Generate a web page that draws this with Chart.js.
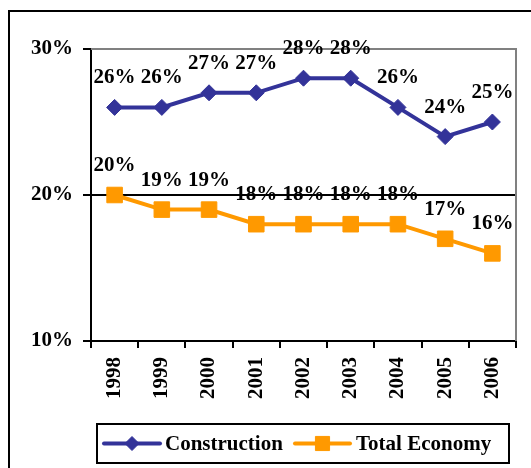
<!DOCTYPE html>
<html>
<head>
<meta charset="utf-8">
<script src="https://cdn.jsdelivr.net/npm/chart.js@4"></script>
<style>
html,body{margin:0;padding:0;background:#fff;}
canvas{display:block;}
</style>
</head>
<body>
<canvas id="c" width="531" height="468"></canvas>
<script>
const years = ['1998','1999','2000','2001','2002','2003','2004','2005','2006'];
const construction = [26,26,27,27,28,28,26,24,25];
const totalEconomy = [20,19,19,18,18,18,18,17,16];
const yTicks = [10,20,30];

const FAMILY = '"Liberation Serif", "Times New Roman", serif';
const FONT = 'bold 21px ' + FAMILY;
const NAVY = '#333399';
const ORANGE = '#FF9900';

const framePlugin = {
  id: 'frame',
  beforeDraw(chart) {
    const c = chart.ctx;
    c.save();
    c.fillStyle = '#fff';
    c.fillRect(0, 0, chart.width, chart.height);
    c.strokeStyle = '#000';
    c.lineWidth = 2;
    c.strokeRect(9, 11, chart.width + 20, chart.height + 20);
    c.restore();
  },
  beforeDatasetsDraw(chart) {
    const a = chart.chartArea, c = chart.ctx;
    c.save();
    c.strokeStyle = '#808080';
    c.lineWidth = 2;
    c.beginPath();
    c.moveTo(a.left, a.top);
    c.lineTo(a.right, a.top);
    c.lineTo(a.right, a.bottom);
    c.stroke();
    c.restore();
  }
};

const labelPlugin = {
  id: 'valueLabels',
  afterDatasetsDraw(chart) {
    const c = chart.ctx;
    c.save();
    c.font = FONT;
    c.fillStyle = '#000';
    c.textAlign = 'center';
    c.textBaseline = 'alphabetic';
    chart.data.datasets.forEach((ds, i) => {
      chart.getDatasetMeta(i).data.forEach((pt, j) => {
        c.fillText(ds.data[j] + '%', pt.x, pt.y - 24);
      });
    });
    c.restore();
  }
};

const legendPlugin = {
  id: 'customLegend',
  afterDraw(chart) {
    const c = chart.ctx;
    const box = {x: 97, y: 424, w: 412, h: 39};
    c.save();
    c.strokeStyle = '#000';
    c.lineWidth = 2;
    c.strokeRect(box.x, box.y, box.w, box.h);
    const cy = box.y + box.h / 2;
    const items = [
      {x1: 104, x2: 160, tx: 165, r: 7},
      {x1: 295, x2: 350, tx: 356, r: 10}
    ];
    c.font = FONT;
    c.textBaseline = 'middle';
    c.textAlign = 'left';
    chart.data.datasets.forEach((ds, i) => {
      const it = items[i];
      c.strokeStyle = ds.borderColor;
      c.lineWidth = ds.borderWidth;
      c.lineCap = 'round';
      c.beginPath();
      c.moveTo(it.x1, cy);
      c.lineTo(it.x2, cy);
      c.stroke();
      c.lineCap = 'butt';
      c.fillStyle = ds.pointBackgroundColor;
      c.strokeStyle = ds.pointBorderColor;
      c.lineWidth = 1;
      Chart.helpers.drawPoint(c, {
        pointStyle: ds.pointStyle,
        radius: it.r,
        borderWidth: 1,
        rotation: 0
      }, (it.x1 + it.x2) / 2, cy);
      c.fillStyle = '#000';
      c.fillText(ds.label, it.tx, cy + 1);
    });
    c.restore();
  }
};

new Chart(document.getElementById('c'), {
  type: 'line',
  data: {
    labels: years,
    datasets: [
      {
        label: 'Construction',
        data: construction,
        borderColor: NAVY,
        backgroundColor: NAVY,
        borderWidth: 4,
        pointStyle: 'rectRot',
        pointRadius: 8,
        pointBackgroundColor: NAVY,
        pointBorderColor: NAVY,
        pointBorderWidth: 1,
        tension: 0
      },
      {
        label: 'Total Economy',
        data: totalEconomy,
        borderColor: ORANGE,
        backgroundColor: ORANGE,
        borderWidth: 4,
        pointStyle: 'rect',
        pointRadius: 11,
        pointBackgroundColor: ORANGE,
        pointBorderColor: ORANGE,
        pointBorderWidth: 1,
        tension: 0
      }
    ]
  },
  options: {
    responsive: false,
    animation: false,
    devicePixelRatio: 1,
    layout: {padding: {left: 0, top: 49, right: 15, bottom: 0}},
    plugins: {
      legend: {display: false},
      tooltip: {enabled: false}
    },
    scales: {
      x: {
        type: 'category',
        offset: true,
        grid: {
          offset: true,
          drawOnChartArea: false,
          tickLength: 7,
          tickColor: '#000',
          lineWidth: 2
        },
        border: {color: '#000', width: 2},
        ticks: {
          minRotation: 90,
          maxRotation: 90,
          padding: 9,
          color: '#000',
          font: {family: FAMILY, size: 21, weight: 'bold'}
        },
        afterFit(scale) { scale.height = 127; }
      },
      y: {
        min: yTicks[0],
        max: yTicks[yTicks.length - 1],
        afterBuildTicks(scale) { scale.ticks = yTicks.map(v => ({value: v})); },
        grid: {
          color: ctx => ctx.tick && ctx.tick.value === 20 ? '#000' : (ctx.tick && ctx.tick.value === 30 ? '#808080' : 'rgba(0,0,0,0)'),
          tickColor: '#000',
          tickLength: 8,
          lineWidth: 2
        },
        border: {color: '#000', width: 2},
        ticks: {
          padding: 10,
          color: '#000',
          font: {family: FAMILY, size: 21, weight: 'bold'},
          callback: v => v + '%'
        },
        afterFit(scale) { scale.width = 91; }
      }
    }
  },
  plugins: [framePlugin, labelPlugin, legendPlugin]
});
</script>
</body>
</html>
